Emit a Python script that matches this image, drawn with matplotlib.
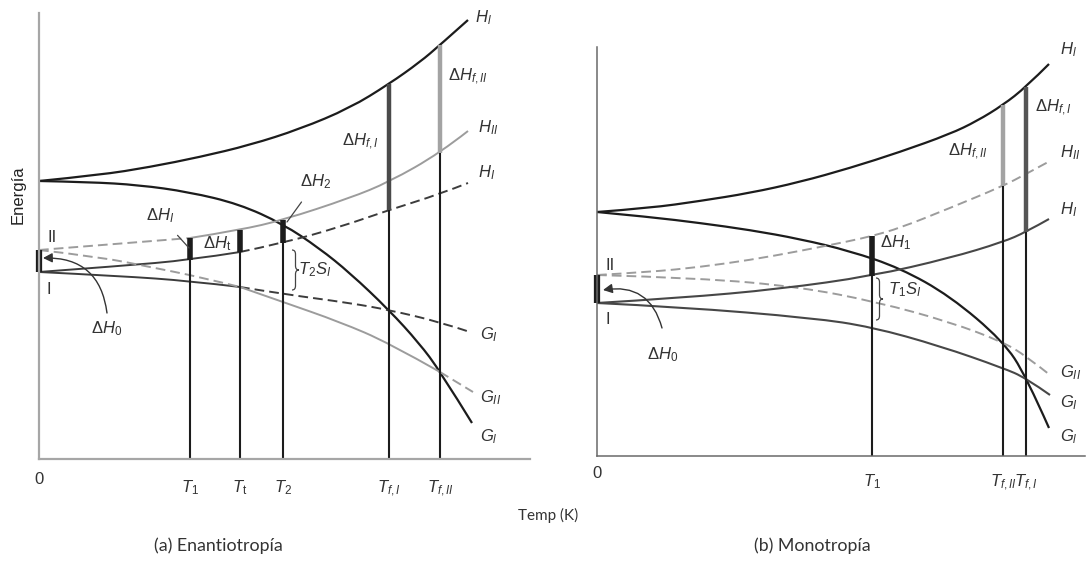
import numpy as np
import matplotlib.pyplot as plt
from matplotlib.path import Path
from matplotlib.patches import PathPatch
from matplotlib.transforms import ScaledTranslation

plt.rcParams['font.family'] = 'Liberation Sans'
plt.rcParams['mathtext.fontset'] = 'custom'
plt.rcParams['mathtext.rm'] = 'Liberation Sans'
plt.rcParams['mathtext.it'] = 'Liberation Sans:italic'
plt.rcParams['mathtext.bf'] = 'Liberation Sans:bold'

# ---------------- (a) Enantiotropía ----------------
a_marks = [151, 201, 244, 350, 401]          # T1, Tt, T2, Tf,I, Tf,II
a_mark_labels = ['0', r'$T_1$', r'$T_\mathrm{t}$', r'$T_2$', r'$T_{f,I}$', r'$T_{f,II}$']

a_Hl_T = [0, 61, 111, 161, 211, 261, 311, 350, 381, 401, 429]
a_Hl_E = [278, 284, 292, 302, 314, 330, 351, 375, 397, 414, 439]
a_Gl_T = [0, 50, 100, 150, 200, 244, 280, 311, 350, 380, 401, 433]
a_Gl_E = [278, 277, 274, 267, 255, 235, 211, 186, 149, 116, 88, 36]
a_HII_T = [0, 76, 151, 201, 244, 311, 350, 401, 429]
a_HII_E = [209, 215, 221, 229, 239, 261, 277, 306, 328]
a_HI_T = [0, 81, 151, 201, 244, 301, 350, 401, 429]
a_HI_E = [187, 193, 199, 207, 216, 232, 249, 265, 276]
a_GI_T = [0, 81, 151, 201, 244, 311, 350, 401, 431]
a_GI_E = [187, 183, 178, 172, 165, 156, 149, 137, 127]
a_GII_T = [0, 61, 111, 161, 201, 244, 301, 350, 401, 434]
a_GII_E = [209, 202, 192, 182, 172, 157, 137, 116, 87, 67]

# ---------------- (b) Monotropía ----------------
b_marks = [275, 406, 429]                     # T1, Tf,II, Tf,I
b_mark_labels = ['0', r'$T_1$', r'$T_{f,II}$', r'$T_{f,I}$']

b_Hl_T = [0, 53, 103, 153, 203, 253, 303, 353, 380, 406, 429, 452]
b_Hl_E = [244, 248, 255, 263, 274, 288, 304, 322, 335, 351, 369, 392]
b_Gl_T = [0, 53, 103, 153, 203, 253, 303, 353, 406, 429, 452]
b_Gl_E = [244, 239, 233, 226, 217, 205, 188, 160, 115, 80, 28]
b_HII_T = [0, 53, 103, 153, 203, 253, 275, 303, 353, 406, 429, 453]
b_HII_E = [181, 184, 189, 196, 205, 215, 220, 228, 248, 270, 282, 295]
b_HI_T = [0, 83, 183, 275, 353, 406, 429, 452]
b_HI_E = [153, 158, 167, 180, 198, 214, 224, 237]
b_GI_T = [0, 83, 216, 275, 343, 406, 429, 453]
b_GI_E = [153, 149, 138, 129, 110, 88, 78, 61]
b_GII_T = [0, 103, 203, 280, 353, 406, 429, 453]
b_GII_E = [181, 178, 169, 154, 134, 114, 100, 81]

BLACK = '#1c1c1c'
DARK = '#3c3c3c'
GRAY = '#9c9c9c'
TXT = '#333333'
DASH = (0, (5, 2.6))


def smooth_path(T, E):
    pts = np.column_stack([T, E]).astype(float)
    verts = [pts[0]]
    codes = [Path.MOVETO]
    for i in range(1, len(pts) - 2):
        verts += [pts[i], (pts[i] + pts[i + 1]) / 2]
        codes += [Path.CURVE3, Path.CURVE3]
    verts += [pts[-2], pts[-1]]
    codes += [Path.CURVE3, Path.CURVE3]
    return Path(verts, codes)


def curve(ax, T, E, lo=None, hi=None, color=BLACK, lw=1.5, dashed=False):
    T = np.asarray(T, float)
    E = np.asarray(E, float)
    lo = T[0] if lo is None else lo
    hi = T[-1] if hi is None else hi
    m = (T >= lo) & (T <= hi)
    patch = PathPatch(smooth_path(T[m], E[m]), fill=False, edgecolor=color,
                      lw=lw, linestyle=DASH if dashed else '-',
                      capstyle='butt', joinstyle='round', clip_on=False)
    ax.add_patch(patch)


def at(T, E, t):
    return float(np.interp(t, T, E))


def bar(ax, t, lo, hi, color, lw):
    ax.plot([t, t], [lo, hi], color=color, lw=lw, solid_capstyle='butt',
            clip_on=False)


def brace(ax, x, y0, y1, w, color='#444444'):
    ym = (y0 + y1) / 2
    r = w * 0.6
    verts = [(x, y1), (x + w / 2, y1), (x + w / 2, y1 - r),
             (x + w / 2, ym + r),
             (x + w / 2, ym), (x + w, ym),
             (x + w / 2, ym), (x + w / 2, ym - r),
             (x + w / 2, y0 + r),
             (x + w / 2, y0), (x, y0)]
    codes = [Path.MOVETO, Path.CURVE3, Path.CURVE3, Path.LINETO,
             Path.CURVE3, Path.CURVE3, Path.CURVE3, Path.CURVE3,
             Path.LINETO, Path.CURVE3, Path.CURVE3]
    ax.add_patch(PathPatch(Path(verts, codes), fill=False, edgecolor=color,
                           lw=0.9))


def label(ax, x, y, s, ha='left', size=12):
    ax.text(x, y, s, ha=ha, va='center', fontsize=size, color=TXT)


def pointer(ax, s, xy, xytext, size=12):
    ax.annotate(s, xy=xy, xytext=xytext, fontsize=size, color=TXT,
                ha='center', va='center',
                arrowprops=dict(arrowstyle='-', color='#444444', lw=0.9,
                                shrinkA=7, shrinkB=0))


def curved_arrow(ax, tip, start):
    ax.annotate('', xy=tip, xytext=start,
                arrowprops=dict(arrowstyle='-|>,head_length=0.55,head_width=0.28',
                                connectionstyle='arc3,rad=0.45',
                                color='#333333', lw=1.0,
                                shrinkA=0, shrinkB=0))


def frame(ax, xmax, ymax, spine_color, spine_lw, marks, mark_labels, pad):
    ax.set_xlim(0, xmax)
    ax.set_ylim(0, ymax)
    for s in ('top', 'right'):
        ax.spines[s].set_visible(False)
    for s in ('left', 'bottom'):
        ax.spines[s].set_color(spine_color)
        ax.spines[s].set_linewidth(spine_lw)
    ax.set_yticks([])
    ax.set_xticks([0] + list(marks), mark_labels)
    ax.tick_params(axis='x', length=0, pad=pad, labelsize=12, labelcolor=TXT)
    # temperature symbols sit a little lower than the origin label
    shift = ScaledTranslation(0, -5 / 72, ax.figure.dpi_scale_trans)
    for lab in ax.get_xticklabels()[1:]:
        lab.set_transform(lab.get_transform() + shift)
    ax.patch.set_alpha(0)


fig = plt.figure(figsize=(10.88, 5.69), dpi=100)
W, H = 1088, 569

# ---------------- panel (a) ----------------
axA = fig.add_axes([39 / W, (H - 459) / H, 491 / W, 446 / H])
frame(axA, 491, 446, '#a6a6a6', 1.6, a_marks, a_mark_labels, 9)
T1, Tt, T2, Tf1, Tf2 = a_marks

for t in (T1, Tt, T2):
    lo, hi = at(a_HI_T, a_HI_E, t), at(a_HII_T, a_HII_E, t)
    bar(axA, t, 0, lo, BLACK, 1.5)
    bar(axA, t, lo, hi, BLACK, 4)
lo, hi = at(a_HI_T, a_HI_E, Tf1), at(a_Hl_T, a_Hl_E, Tf1)
bar(axA, Tf1, 0, lo, BLACK, 1.5)
bar(axA, Tf1, lo, hi, '#4a4a4a', 3.2)
lo, hi = at(a_HII_T, a_HII_E, Tf2), at(a_Hl_T, a_Hl_E, Tf2)
bar(axA, Tf2, 0, lo, BLACK, 1.5)
bar(axA, Tf2, lo, hi, '#a3a3a3', 3.2)
bar(axA, 0, a_HI_E[0], a_HII_E[0], BLACK, 4.5)

curve(axA, a_Hl_T, a_Hl_E, color=BLACK, lw=1.6)
curve(axA, a_Gl_T, a_Gl_E, color=BLACK, lw=1.6)
curve(axA, a_HII_T, a_HII_E, hi=T1, color=GRAY, lw=1.4, dashed=True)
curve(axA, a_HII_T, a_HII_E, lo=T1, color=GRAY, lw=1.4)
curve(axA, a_HI_T, a_HI_E, hi=Tt, color=DARK, lw=1.4)
curve(axA, a_HI_T, a_HI_E, lo=Tt, color=DARK, lw=1.4, dashed=True)
curve(axA, a_GI_T, a_GI_E, hi=Tt, color=DARK, lw=1.4)
curve(axA, a_GI_T, a_GI_E, lo=Tt, color=DARK, lw=1.4, dashed=True)
curve(axA, a_GII_T, a_GII_E, hi=Tt, color=GRAY, lw=1.4, dashed=True)
curve(axA, a_GII_T, a_GII_E, lo=Tt, hi=Tf2, color=GRAY, lw=1.4)
curve(axA, a_GII_T, a_GII_E, lo=Tf2, color=GRAY, lw=1.4, dashed=True)

label(axA, 436, 441, r'$H_l$')
label(axA, 409, 382, r'$\Delta H_{f,II}$')
label(axA, 439, 331, r'$H_{II}$')
label(axA, 439, 286, r'$H_I$')
label(axA, 321, 317, r'$\Delta H_{f,I}$', ha='center')
label(axA, 178, 215, r'$\Delta H_\mathrm{t}$', ha='center')
label(axA, 276, 189, r'$T_2S_I$', ha='center')
label(axA, 441, 124, r'$G_I$')
label(axA, 441, 61, r'$G_{II}$')
label(axA, 441, 22, r'$G_l$')
label(axA, 13, 221, 'II', ha='center')
label(axA, 10, 169, 'I', ha='center')
pointer(axA, r'$\Delta H_I$', (150, 211), (121, 243))
pointer(axA, r'$\Delta H_2$', (248, 237), (277, 277))
brace(axA, 253, 169, 209, 7)
axA.text(68, 130, r'$\Delta H_0$', ha='center', va='center', fontsize=12, color=TXT)
curved_arrow(axA, (4, 201), (68, 146))

# ---------------- panel (b) ----------------
axB = fig.add_axes([597 / W, (H - 456) / H, 488 / W, 409 / H])
frame(axB, 488, 409, '#6a6a6a', 1.1, b_marks, b_mark_labels, 7)
bT1, bTf2, bTf1 = b_marks

lo, hi = at(b_HI_T, b_HI_E, bT1), at(b_HII_T, b_HII_E, bT1)
bar(axB, bT1, 0, lo, BLACK, 1.5)
bar(axB, bT1, lo, hi, BLACK, 4)
lo, hi = at(b_HII_T, b_HII_E, bTf2), at(b_Hl_T, b_Hl_E, bTf2)
bar(axB, bTf2, 0, lo, BLACK, 1.5)
bar(axB, bTf2, lo, hi, '#a3a3a3', 3.2)
lo, hi = at(b_HI_T, b_HI_E, bTf1), at(b_Hl_T, b_Hl_E, bTf1)
bar(axB, bTf1, 0, lo, BLACK, 1.5)
bar(axB, bTf1, lo, hi, '#555555', 3.2)
bar(axB, 0, b_HI_E[0], b_HII_E[0], BLACK, 4.5)

curve(axB, b_Hl_T, b_Hl_E, color=BLACK, lw=1.6)
curve(axB, b_Gl_T, b_Gl_E, color=BLACK, lw=1.6)
curve(axB, b_HII_T, b_HII_E, color=GRAY, lw=1.4, dashed=True)
curve(axB, b_GII_T, b_GII_E, color=GRAY, lw=1.4, dashed=True)
curve(axB, b_HI_T, b_HI_E, color='#474747', lw=1.5)
curve(axB, b_GI_T, b_GI_E, color='#474747', lw=1.5)

label(axB, 463, 406, r'$H_l$')
label(axB, 438, 348, r'$\Delta H_{f,I}$')
label(axB, 371, 304, r'$\Delta H_{f,II}$', ha='center')
label(axB, 463, 303, r'$H_{II}$')
label(axB, 463, 246, r'$H_I$')
label(axB, 283, 213, r'$\Delta H_1$')
label(axB, 291, 166, r'$T_1S_I$')
label(axB, 463, 83, r'$G_{II}$')
label(axB, 463, 53, r'$G_I$')
label(axB, 463, 19, r'$G_l$')
label(axB, 13, 191, 'II', ha='center')
label(axB, 11, 136, 'I', ha='center')
brace(axB, 279, 136, 178, 7)
axB.text(66, 101, r'$\Delta H_0$', ha='center', va='center', fontsize=12, color=TXT)
curved_arrow(axB, (6, 166), (65, 128))

# ---------------- shared texts ----------------
fig.text(18 / W, 1 - 195 / H, 'Energía', rotation=90, ha='center', va='center',
         fontsize=12, color='#222222')
fig.text(548 / W, 1 - 515 / H, 'Temp (K)', ha='center', va='center',
         fontsize=11, color='#333333', family='Lato')
fig.text(218 / W, 1 - 546 / H, '(a) Enantiotropía', ha='center', va='center',
         fontsize=12.8, color='#333333', family='Lato')
fig.text(812 / W, 1 - 546 / H, '(b) Monotropía', ha='center', va='center',
         fontsize=12.8, color='#333333', family='Lato')

fig.savefig('out.png', dpi=100, facecolor='white')
